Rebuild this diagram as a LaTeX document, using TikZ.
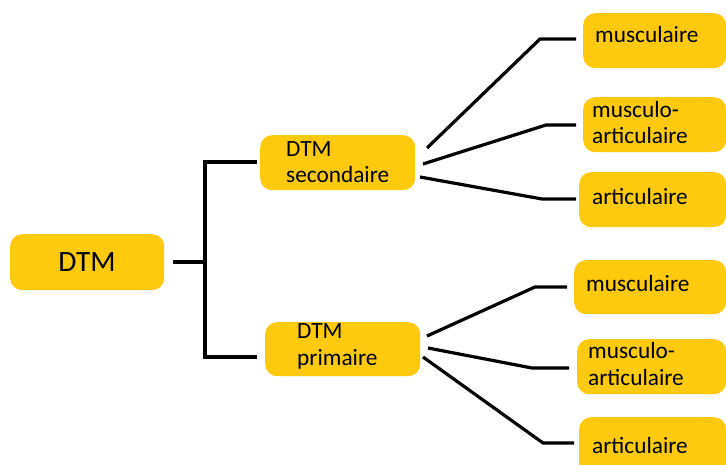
\documentclass[tikz,border=0pt]{standalone}
\usepackage{fontspec}
\setmainfont{Carlito}
\definecolor{boxy}{HTML}{FFC90E}
\begin{document}
\begin{tikzpicture}[x=1pt,y=-1pt,
  box/.style={fill=boxy, rounded corners=12pt, inner sep=0pt, anchor=north west},
  lab/.style={font=\fontsize{23.3}{26.5}\selectfont, align=left, anchor=base west, inner sep=0pt},
  conn/.style={line width=3.2pt}]
\useasboundingbox (0,0) rectangle (726,465);
\clip (0,0) rectangle (726,465);
% boxes
\node[box, minimum width=154pt, minimum height=56pt] (dtm) at (10,234) {};
\node[box, minimum width=155pt, minimum height=55pt] (sec) at (260,135) {};
\node[box, minimum width=155pt, minimum height=54pt] (pri) at (265,322) {};
\node[box, minimum width=143pt, minimum height=55pt] (m1) at (583,13) {};
\node[box, minimum width=143pt, minimum height=55pt] (m2) at (583,97) {};
\node[box, minimum width=147pt, minimum height=55pt] (a1) at (579,172) {};
\node[box, minimum width=152pt, minimum height=54pt] (m3) at (574,260) {};
\node[box, minimum width=149pt, minimum height=55pt] (m4) at (577,339) {};
\node[box, minimum width=147pt, minimum height=60pt] (a2) at (579,417) {};
% labels
\node[lab, anchor=base, font=\fontsize{29.5}{34}\selectfont] (tdtm) at (87,272) {DTM};
\node[lab] (tsec) at (286,183) {DTM\\secondaire};
\node[lab] (tpri) at (297,365) {DTM\\primaire};
\node[lab] (tm1) at (595,43) {musculaire};
\node[lab] (tm2) at (592,144) {musculo-\\articulaire};
\node[lab] (ta1) at (592,205) {articulaire};
\node[lab] (tm3) at (586,292) {musculaire};
\node[lab] (tm4) at (588,385) {musculo-\\articulaire};
\node[lab] (ta2) at (592,453) {articulaire};
% connector points
\coordinate (r0) at (173,262);
\coordinate (j0) at (205,262);
\coordinate (js) at (205,162);
\coordinate (jp) at (205,357);
\coordinate (es) at (257,162);
\coordinate (ep) at (257,357);
\coordinate (s1) at (427,148);
\coordinate (s2) at (423,164);
\coordinate (s3) at (420,177);
\coordinate (b1) at (540,39);
\coordinate (b2) at (546,125);
\coordinate (b3) at (542,199);
\coordinate (e1) at (576,39);
\coordinate (e2) at (576,125);
\coordinate (e3) at (576,199);
\coordinate (p1) at (427,336);
\coordinate (p2) at (428,348);
\coordinate (p3) at (423,357);
\coordinate (c1) at (535,287);
\coordinate (c2) at (532,368);
\coordinate (c3) at (543,443);
\coordinate (f1) at (567,287);
\coordinate (f2) at (569,368);
\coordinate (f3) at (574,443);
% connectors
\draw[conn] (r0) -- (j0);
\draw[conn] (es) -- (js) -- (jp) -- (ep);
\draw[conn] (s1) -- (b1) -- (e1);
\draw[conn] (s2) -- (b2) -- (e2);
\draw[conn] (s3) -- (b3) -- (e3);
\draw[conn] (p1) -- (c1) -- (f1);
\draw[conn] (p2) -- (c2) -- (f2);
\draw[conn] (p3) -- (c3) -- (f3);
\end{tikzpicture}
\end{document}
